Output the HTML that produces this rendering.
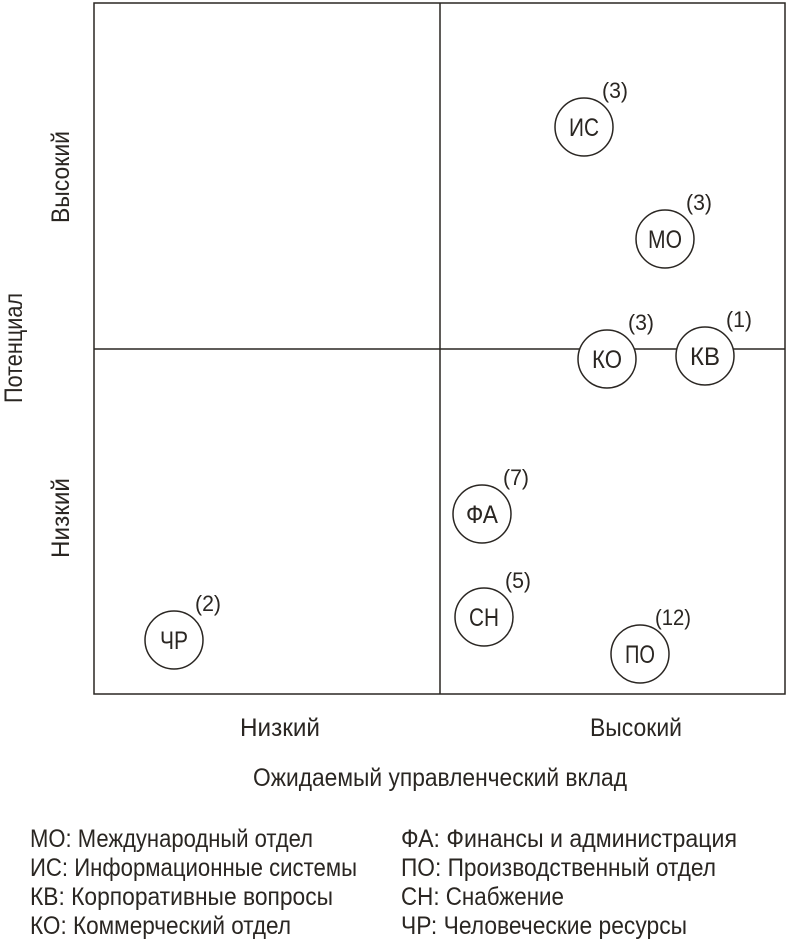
<!DOCTYPE html><html><head><meta charset="utf-8"><style>
body{margin:0;background:#fff;}
svg text{font-family:"Liberation Sans Narrow","Liberation Sans",sans-serif;fill:#2a2622;}
</style></head><body>
<svg width="790" height="943" xmlns="http://www.w3.org/2000/svg">
<g stroke="#2a2622" stroke-width="1.5" fill="none">
<rect x="94" y="3" width="691" height="691"/>
<line x1="440" y1="3" x2="440" y2="694"/>
<line x1="94" y1="349" x2="785" y2="349"/>
</g>
<g stroke="#2a2622" stroke-width="1.5" fill="#fff">
<circle cx="584" cy="127" r="29"/>
<circle cx="665" cy="239" r="29"/>
<circle cx="607" cy="359" r="29"/>
<circle cx="705" cy="356" r="29"/>
<circle cx="482" cy="514" r="29"/>
<circle cx="484" cy="617" r="29"/>
<circle cx="174" cy="640" r="29"/>
<circle cx="640" cy="654" r="29"/>
</g>
<g font-size="25" text-anchor="middle" lengthAdjust="spacingAndGlyphs">
<text x="584" y="136" textLength="30" lengthAdjust="spacingAndGlyphs">ИС</text>
<text x="665" y="248" textLength="34" lengthAdjust="spacingAndGlyphs">МО</text>
<text x="607" y="368" textLength="30" lengthAdjust="spacingAndGlyphs">КО</text>
<text x="705" y="365" textLength="30" lengthAdjust="spacingAndGlyphs">КВ</text>
<text x="482" y="523" textLength="32" lengthAdjust="spacingAndGlyphs">ФА</text>
<text x="484" y="626" textLength="30" lengthAdjust="spacingAndGlyphs">СН</text>
<text x="174" y="649" textLength="28" lengthAdjust="spacingAndGlyphs">ЧР</text>
<text x="640" y="663" textLength="30" lengthAdjust="spacingAndGlyphs">ПО</text>
</g>
<g font-size="22" text-anchor="middle">
<text x="615" y="98" textLength="26" lengthAdjust="spacingAndGlyphs">(3)</text>
<text x="699" y="210" textLength="26" lengthAdjust="spacingAndGlyphs">(3)</text>
<text x="641" y="330" textLength="26" lengthAdjust="spacingAndGlyphs">(3)</text>
<text x="739" y="327" textLength="26" lengthAdjust="spacingAndGlyphs">(1)</text>
<text x="516" y="485" textLength="26" lengthAdjust="spacingAndGlyphs">(7)</text>
<text x="518" y="588" textLength="26" lengthAdjust="spacingAndGlyphs">(5)</text>
<text x="208" y="611" textLength="26" lengthAdjust="spacingAndGlyphs">(2)</text>
<text x="673" y="625" textLength="36" lengthAdjust="spacingAndGlyphs">(12)</text>
</g>
<g font-size="25" text-anchor="middle">
<text x="280" y="736" textLength="80" lengthAdjust="spacingAndGlyphs">Низкий</text>
<text x="636" y="736" textLength="92" lengthAdjust="spacingAndGlyphs">Высокий</text>
<text x="440" y="786" textLength="374" lengthAdjust="spacingAndGlyphs">Ожидаемый управленческий вклад</text>
<text transform="translate(69,177) rotate(-90)" textLength="92" lengthAdjust="spacingAndGlyphs">Высокий</text>
<text transform="translate(69,518) rotate(-90)" textLength="80" lengthAdjust="spacingAndGlyphs">Низкий</text>
<text transform="translate(22,348) rotate(-90)" textLength="110" lengthAdjust="spacingAndGlyphs">Потенциал</text>
</g>
<g font-size="25">
<text x="30" y="847" textLength="283" lengthAdjust="spacingAndGlyphs">МО: Международный отдел</text>
<text x="30" y="876" textLength="327" lengthAdjust="spacingAndGlyphs">ИС: Информационные системы</text>
<text x="30" y="905" textLength="303" lengthAdjust="spacingAndGlyphs">КВ: Корпоративные вопросы</text>
<text x="30" y="934" textLength="261" lengthAdjust="spacingAndGlyphs">КО: Коммерческий отдел</text>
<text x="401" y="847" textLength="336" lengthAdjust="spacingAndGlyphs">ФА: Финансы и администрация</text>
<text x="401" y="876" textLength="315" lengthAdjust="spacingAndGlyphs">ПО: Производственный отдел</text>
<text x="401" y="905" textLength="163" lengthAdjust="spacingAndGlyphs">СН: Снабжение</text>
<text x="401" y="934" textLength="286" lengthAdjust="spacingAndGlyphs">ЧР: Человеческие ресурсы</text>
</g>
</svg>
</body></html>
